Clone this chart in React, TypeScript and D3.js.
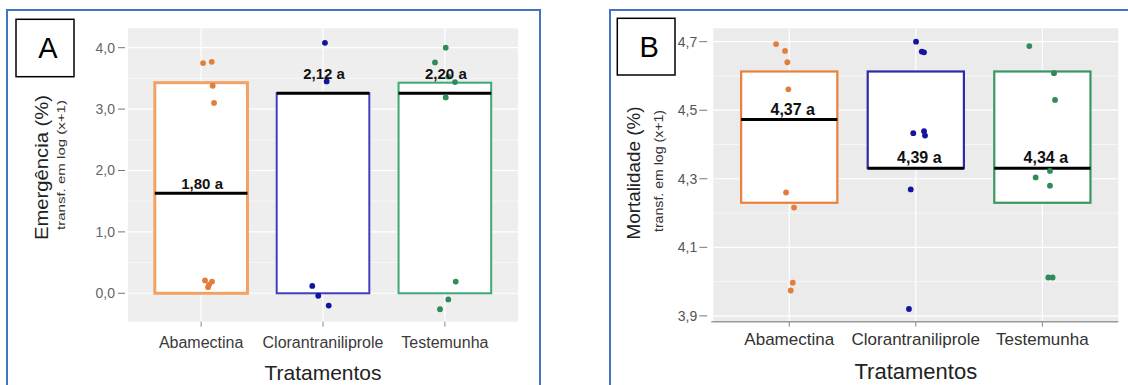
import React from 'react';
import * as d3 from 'd3';

// ---------- DATA ----------
const categories = ['Abamectina', 'Clorantraniliprole', 'Testemunha'];

// Panel A – Emergência (%) transf. em log (x+1)
const emergValues = [
  [3.75, 3.77, 3.38, 3.1, 0.21, 0.19, 0.14, 0.1],
  [4.08, 3.45, 0.12, -0.04, -0.2],
  [4.0, 3.76, 3.53, 3.44, 3.19, 0.19, -0.1, -0.26],
];
const emergJitter = [
  [0.016, 0.087, 0.095, 0.106, 0.032, 0.089, 0.065, 0.057],
  [0.016, 0.03, -0.088, -0.039, 0.047],
  [0.007, -0.081, 0.028, 0.083, 0.007, 0.089, 0.028, -0.04],
];
const emergQ1 = [0, 0, 0];
const emergMedian = [1.63, 3.26, 3.26];
const emergQ3 = [3.43, 3.26, 3.43];
const emergLabels = ['1,80 a', '2,12 a', '2,20 a'];
const emergLabelY = [1.7, 3.49, 3.49];
const emergTicks = [0, 1, 2, 3, 4];
const emergMinor = [0.5, 1.5, 2.5, 3.5];
const emergDomain = [-0.463, 4.316];

// Panel B – Mortalidade (%) transf. em log (x+1)
const mortValues = [
  [4.693, 4.673, 4.64, 4.561, 4.26, 4.216, 3.997, 3.974],
  [4.7, 4.671, 4.669, 4.433, 4.439, 4.426, 4.269, 3.92],
  [4.687, 4.608, 4.53, 4.323, 4.304, 4.28, 4.012, 4.012],
];
const mortJitter = [
  [-0.104, -0.033, -0.015, -0.007, -0.025, 0.038, 0.028, 0.012],
  [0.002, 0.047, 0.065, -0.02, 0.065, 0.073, -0.04, -0.054],
  [-0.103, 0.092, 0.1, 0.06, -0.053, 0.06, 0.047, 0.081],
];
const mortQ1 = [4.23, 4.331, 4.23];
const mortMedian = [4.473, 4.331, 4.331];
const mortQ3 = [4.613, 4.613, 4.613];
const mortLabels = ['4,37 a', '4,39 a', '4,34 a'];
const mortLabelY = [4.486, 4.345, 4.345];
const mortTicks = [3.9, 4.1, 4.3, 4.5, 4.7];
const mortMinor = [4.0, 4.2, 4.4, 4.6];
const mortDomain = [3.883, 4.739];

// ---------- STYLE ----------
const FONT = '"Liberation Sans", Arial, Helvetica, sans-serif';
const pointColors = ['#E37E3A', '#14149E', '#2E8C58'];
const boxColorsA = ['#F3A265', '#4040BE', '#3FA874'];
const boxColorsB = ['#E8823A', '#2C2CA6', '#3A9662'];

const fmt = (v: number) => d3.format('.1f')(v).replace('.', ',');

type PanelProps = {
  frame: { x: number; y: number; w: number; h: number };
  tag: string;
  tagBox: { x: number; y: number; w: number; h: number };
  plot: { l: number; r: number; t: number; b: number };
  domain: number[];
  values: number[][];
  jitter: number[][];
  q1: number[];
  med: number[];
  q3: number[];
  labels: string[];
  labelY: number[];
  labelDx: number;
  labelFont: number;
  ticks: number[];
  minor: number[];
  boxColors: string[];
  bg: string;
  title: string;
  titleX: number;
  titleY: number;
  titleFont: number;
  titleLen: number;
  subX: number;
  subY: number;
  subFont: number;
  subLen: number;
  tickLabelGap: number;
  tickFrom: number;
  tickTo: number;
  tickColor: string;
  xLabelY: number;
  xLabelFont: number;
  xLabelColor: string;
  xTitleY: number;
  xTitleFont: number;
  axisLine: boolean;
  boxStroke: number[];
};

function Panel(p: PanelProps) {
  const x = d3.scalePoint<string>().domain(categories).range([p.plot.l, p.plot.r]).padding(0.6);
  const y = d3.scaleLinear().domain(p.domain).range([p.plot.b, p.plot.t]);
  const step = x.step();
  const bw = step * 0.76;
  const cx = (p.plot.l + p.plot.r) / 2;
  return (
    <g>
      <rect x={p.frame.x} y={p.frame.y} width={p.frame.w} height={p.frame.h} fill="#fff" stroke="#4472C4" strokeWidth={2} />
      <rect x={p.plot.l} y={p.plot.t} width={p.plot.r - p.plot.l} height={p.plot.b - p.plot.t} fill={p.bg} />
      {p.minor.map((t) => (
        <line key={'mi' + t} x1={p.plot.l} x2={p.plot.r} y1={y(t)} y2={y(t)} stroke="#fafafa" strokeWidth={0.7} />
      ))}
      {p.ticks.map((t) => (
        <line key={'ma' + t} x1={p.plot.l} x2={p.plot.r} y1={y(t)} y2={y(t)} stroke="#fff" strokeWidth={1.2} />
      ))}
      {categories.map((c) => (
        <line key={'vg' + c} x1={x(c)} x2={x(c)} y1={p.plot.t} y2={p.plot.b} stroke="#fff" strokeWidth={1.2} />
      ))}
      {p.axisLine && (
        <line x1={p.plot.l - 2} x2={p.plot.r} y1={p.plot.b} y2={p.plot.b} stroke="#9a9a9a" strokeWidth={1.5} />
      )}
      {/* y ticks */}
      {p.ticks.map((t) => (
        <g key={'yt' + t}>
          <line x1={p.plot.l - p.tickFrom} x2={p.plot.l - p.tickTo} y1={y(t)} y2={y(t)} stroke="#777" strokeWidth={1} />
          <text x={p.plot.l - p.tickLabelGap} y={y(t)} dy="0.35em" textAnchor="end" fontFamily={FONT} fontSize={14} fill={p.tickColor}>
            {fmt(t)}
          </text>
        </g>
      ))}
      {/* x ticks & labels */}
      {categories.map((c) => (
        <g key={'xt' + c}>
          <line x1={x(c)} x2={x(c)} y1={p.plot.b} y2={p.plot.b + 5} stroke="#888" strokeWidth={1} />
          <text x={x(c)} y={p.xLabelY} textAnchor="middle" fontFamily={FONT} fontSize={p.xLabelFont} fill={p.xLabelColor}>
            {c}
          </text>
        </g>
      ))}
      {/* boxes */}
      {categories.map((c, i) => (
        <g key={'bx' + c}>
          <rect
            x={(x(c) as number) - bw / 2}
            y={y(p.q3[i])}
            width={bw}
            height={Math.max(0, y(p.q1[i]) - y(p.q3[i]))}
            fill="#fff"
            stroke={p.boxColors[i]}
            strokeWidth={p.boxStroke[i]}
          />
          <line
            x1={(x(c) as number) - bw / 2}
            x2={(x(c) as number) + bw / 2}
            y1={y(p.med[i])}
            y2={y(p.med[i])}
            stroke="#000"
            strokeWidth={3}
          />
        </g>
      ))}
      {/* points */}
      {categories.map((c, i) =>
        p.values[i].map((v, j) => (
          <circle
            key={'pt' + i + '-' + j}
            cx={(x(c) as number) + p.jitter[i][j] * step}
            cy={y(v)}
            r={2.9}
            fill={pointColors[i]}
          />
        ))
      )}
      {/* mean labels */}
      {categories.map((c, i) => (
        <text
          key={'lb' + c}
          x={(x(c) as number) + p.labelDx}
          y={y(p.labelY[i])}
          textAnchor="middle"
          fontFamily={FONT}
          fontWeight="bold"
          fontSize={p.labelFont}
          fill="#111"
        >
          {p.labels[i]}
        </text>
      ))}
      {/* axis titles */}
      <text x={cx} y={p.xTitleY} textAnchor="middle" fontFamily={FONT} fontSize={p.xTitleFont} fill="#222">
        Tratamentos
      </text>
      <text
        transform={`translate(${p.titleX},${p.titleY}) rotate(-90)`}
        textAnchor="middle"
        fontFamily={FONT}
        fontSize={p.titleFont}
        fill="#222"
        textLength={p.titleLen}
        lengthAdjust="spacingAndGlyphs"
      >
        {p.title}
      </text>
      <text
        transform={`translate(${p.subX},${p.subY}) rotate(-90)`}
        textAnchor="middle"
        fontFamily={FONT}
        fontSize={p.subFont}
        fill="#333"
        textLength={p.subLen}
        lengthAdjust="spacingAndGlyphs"
      >
        transf. em log (x+1)
      </text>
      {/* panel tag */}
      <rect x={p.tagBox.x} y={p.tagBox.y} width={p.tagBox.w} height={p.tagBox.h} fill="#fff" stroke="#000" strokeWidth={1.5} />
      <text
        x={p.tagBox.x + p.tagBox.w / 2 + 3}
        y={p.tagBox.y + p.tagBox.h / 2 + 10}
        textAnchor="middle"
        fontFamily={FONT}
        fontSize={29}
        fill="#000"
      >
        {p.tag}
      </text>
    </g>
  );
}

export default function App() {
  return (
    <svg width={1128} height={385} style={{ position: 'absolute', left: 0, top: 0, background: '#fff' }}>
      <Panel
        frame={{ x: 7, y: 10, w: 533, h: 400 }}
        tag="A"
        tagBox={{ x: 16, y: 19.3, w: 58, h: 57.4 }}
        plot={{ l: 128, r: 518, t: 28.3, b: 321.7 }}
        domain={emergDomain}
        values={emergValues}
        jitter={emergJitter}
        q1={emergQ1}
        med={emergMedian}
        q3={emergQ3}
        labels={emergLabels}
        labelY={emergLabelY}
        labelDx={1}
        labelFont={15}
        ticks={emergTicks}
        minor={emergMinor}
        boxColors={boxColorsA}
        bg="#EEEEEE"
        title="Emergência (%)"
        titleX={48}
        titleY={167.5}
        titleFont={18}
        titleLen={145}
        subX={64.5}
        subY={165}
        subFont={11}
        subLen={130}
        tickLabelGap={13}
        tickFrom={10}
        tickTo={3}
        tickColor="#666"
        xLabelY={348}
        xLabelFont={16}
        xLabelColor="#3a3a3a"
        xTitleY={380}
        xTitleFont={21}
        axisLine={false}
        boxStroke={[3, 2, 2]}
      />
      <Panel
        frame={{ x: 610, y: 10, w: 540, h: 400 }}
        tag="B"
        tagBox={{ x: 617.3, y: 18.3, w: 57.7, h: 56.7 }}
        plot={{ l: 713.3, r: 1118.3, t: 28.3, b: 321.7 }}
        domain={mortDomain}
        values={mortValues}
        jitter={mortJitter}
        q1={mortQ1}
        med={mortMedian}
        q3={mortQ3}
        labels={mortLabels}
        labelY={mortLabelY}
        labelDx={3.5}
        labelFont={16}
        ticks={mortTicks}
        minor={mortMinor}
        boxColors={boxColorsB}
        bg="#EBEBEB"
        title="Mortalidade (%)"
        titleX={640}
        titleY={173}
        titleFont={18}
        titleLen={133}
        subX={662.5}
        subY={171}
        subFont={13}
        subLen={122}
        tickLabelGap={16}
        tickFrom={14}
        tickTo={6}
        tickColor="#555"
        xLabelY={345}
        xLabelFont={17}
        xLabelColor="#333"
        xTitleY={379}
        xTitleFont={22}
        axisLine={true}
        boxStroke={[2.2, 2.2, 2.2]}
      />
    </svg>
  );
}
